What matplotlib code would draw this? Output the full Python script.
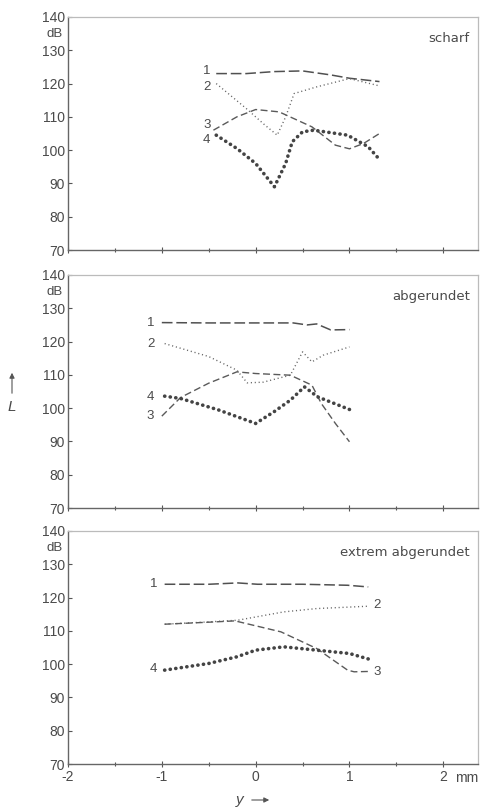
import matplotlib
matplotlib.use("Agg")
import matplotlib.pyplot as plt
import matplotlib.transforms as mtransforms

# ---- data -------------------------------------------------------------
panel_titles = ["scharf", "abgerundet", "extrem abgerundet"]

# panel 1: scharf
p1_c1_x = [-0.42, -0.1, 0.2, 0.5, 0.8, 1.0, 1.32]
p1_c1_y = [123.0, 123.0, 123.6, 123.8, 122.6, 121.6, 120.6]
p1_c2_x = [-0.42, -0.1, 0.1, 0.23, 0.32, 0.41, 0.65, 1.0, 1.32]
p1_c2_y = [120.0, 112.5, 107.5, 104.5, 110.0, 117.0, 119.0, 121.5, 119.3]
p1_c3_x = [-0.45, -0.2, 0.0, 0.25, 0.6, 0.85, 1.0, 1.15, 1.32]
p1_c3_y = [106.0, 110.0, 112.2, 111.5, 107.0, 101.5, 100.4, 102.0, 105.0]
p1_c4_x = [-0.42, -0.2, 0.0, 0.2, 0.32, 0.39, 0.5, 0.62, 0.98, 1.2, 1.32]
p1_c4_y = [104.5, 100.5, 96.0, 89.0, 96.0, 102.5, 105.5, 106.0, 104.5, 101.0, 97.2]

# panel 2: abgerundet
p2_c1_x = [-1.0, -0.5, 0.0, 0.4, 0.55, 0.65, 0.8, 1.0]
p2_c1_y = [125.7, 125.6, 125.6, 125.6, 125.0, 125.3, 123.5, 123.6]
p2_c2_x = [-0.97, -0.5, -0.2, -0.09, 0.08, 0.37, 0.5, 0.6, 0.72, 1.0]
p2_c2_y = [119.4, 115.5, 111.4, 107.6, 107.8, 109.9, 116.9, 113.9, 115.9, 118.4]
p2_c3_x = [-1.0, -0.8, -0.5, -0.2, 0.0, 0.37, 0.6, 0.7, 0.85, 1.0]
p2_c3_y = [97.6, 103.2, 107.5, 110.9, 110.4, 109.9, 106.9, 101.4, 95.4, 89.9]
p2_c4_x = [-0.97, -0.8, -0.4, 0.0, 0.2, 0.37, 0.52, 0.66, 1.0]
p2_c4_y = [103.6, 102.9, 99.5, 95.4, 99.0, 102.4, 106.4, 103.4, 99.6]

# panel 3: extrem abgerundet
p3_c1_x = [-0.97, -0.5, -0.19, 0.02, 0.5, 0.98, 1.2]
p3_c1_y = [124.0, 124.0, 124.4, 124.0, 124.0, 123.7, 123.2]
p3_c2_x = [-0.97, -0.5, -0.19, 0.3, 0.65, 1.2]
p3_c2_y = [112.0, 112.7, 113.2, 115.7, 116.7, 117.4]
p3_c3_x = [-0.97, -0.5, -0.22, 0.27, 0.65, 0.98, 1.05, 1.2]
p3_c3_y = [112.0, 112.6, 113.0, 109.7, 104.7, 98.2, 97.7, 97.8]
p3_c4_x = [-0.97, -0.5, -0.2, 0.0, 0.3, 0.65, 1.0, 1.22]
p3_c4_y = [98.2, 100.2, 102.2, 104.2, 105.2, 104.2, 103.2, 101.4]

# curve number labels: (text, x, y)
p1_labels = [("1", -0.52, 123.9), ("2", -0.52, 118.9), ("3", -0.52, 107.7), ("4", -0.52, 103.1)]
p2_labels = [("1", -1.12, 125.6), ("2", -1.12, 119.2), ("4", -1.12, 103.4), ("3", -1.12, 97.6)]
p3_labels = [("1", -1.09, 124.2), ("2", 1.29, 117.9), ("3", 1.29, 97.7), ("4", -1.09, 98.5)]

y_ticks = [70, 80, 90, 100, 110, 120, 130, 140]
x_ticks = [-2, -1, 0, 1, 2]
x_minor = [-1.5, -0.5, 0.5, 1.5]

panels = [
    (panel_titles[0], [(p1_c1_x, p1_c1_y), (p1_c2_x, p1_c2_y), (p1_c3_x, p1_c3_y), (p1_c4_x, p1_c4_y)], p1_labels),
    (panel_titles[1], [(p2_c1_x, p2_c1_y), (p2_c2_x, p2_c2_y), (p2_c3_x, p2_c3_y), (p2_c4_x, p2_c4_y)], p2_labels),
    (panel_titles[2], [(p3_c1_x, p3_c1_y), (p3_c2_x, p3_c2_y), (p3_c3_x, p3_c3_y), (p3_c4_x, p3_c4_y)], p3_labels),
]

# ---- styling ----------------------------------------------------------
W, H = 481, 809
fig = plt.figure(figsize=(W / 100, H / 100), dpi=100)
ink = "#555555"
txt = "#4a4a4a"
tickfont = "Liberation Sans"

styles = [
    dict(lw=1.1, dashes=(7, 2.5), color="#505050"),
    dict(lw=1.0, dashes=(0.8, 2.0), color="#666666"),
    dict(lw=1.0, dashes=(5, 2.5), color="#5a5a5a"),
    dict(lw=2.6, dashes=(0.05, 1.5), color="#444444", dash_capstyle="round"),
]

left_px, right_px = 68, 478
tops = [17, 275, 531]
ax_h = 233

for i, (title, curves, labels) in enumerate(panels):
    top = tops[i]
    ax = fig.add_axes([left_px / W, 1 - (top + ax_h) / H, (right_px - left_px) / W, ax_h / H])
    for (xs, ys), st in zip(curves, styles):
        ax.plot(xs, ys, solid_capstyle="round", **st)
    for t, x, y in labels:
        ax.text(x, y, t, ha="center", va="center", fontsize=9.5, color=txt, family=tickfont)
    ax.text(0.98, 133.6, title, transform=mtransforms.blended_transform_factory(ax.transAxes, ax.transData),
            ha="right", va="center", fontsize=9.5, color=txt, family="DejaVu Sans")
    ax.text(-0.012, 135, "dB", transform=mtransforms.blended_transform_factory(ax.transAxes, ax.transData),
            ha="right", va="center", fontsize=9.5, color=txt, family=tickfont)
    ax.set_xlim(-2, 2.37)
    ax.set_ylim(70, 140)
    ax.set_yticks(y_ticks)
    ax.set_xticks(x_ticks)
    ax.set_xticks(x_minor, minor=True)
    ax.tick_params(axis="both", which="both", direction="inout", length=4, width=0.8, color=ink,
                   labelsize=10, labelcolor=txt, pad=2)
    ax.tick_params(axis="y", which="major", direction="in", length=3)
    ax.tick_params(axis="x", which="minor", length=3)
    for lab in ax.get_yticklabels() + ax.get_xticklabels():
        lab.set_family(tickfont)
    if i < 2:
        ax.set_xticklabels([])
    else:
        ax.set_xticklabels([str(v) for v in x_ticks])
        ax.text(2.25, -0.03, "mm", transform=mtransforms.blended_transform_factory(ax.transData, ax.transAxes),
                ha="center", va="top", fontsize=10, color=txt, family=tickfont)
    for s in ["left", "bottom"]:
        ax.spines[s].set_color("#666666")
        ax.spines[s].set_linewidth(1.0)
    for s in ["top", "right"]:
        ax.spines[s].set_color("#bbbbbb")
        ax.spines[s].set_linewidth(0.9)
    ax.set_facecolor("white")

# axis label L with upward arrow
fig.text(12 / W, 1 - 407 / H, "L", ha="center", va="center", fontsize=11, style="italic",
         color=txt, family=tickfont)
fig.add_artist(matplotlib.patches.FancyArrowPatch((12 / W, 1 - 396 / H), (12 / W, 1 - 370 / H),
               transform=fig.transFigure, arrowstyle="-|>,head_length=3,head_width=1.5",
               lw=0.8, color=ink))

# y label with rightward arrow
fig.text(240 / W, 1 - 800 / H, "y", ha="center", va="center", fontsize=11, style="italic",
         color=txt, family=tickfont)
fig.add_artist(matplotlib.patches.FancyArrowPatch((249 / W, 1 - 800 / H), (272 / W, 1 - 800 / H),
               transform=fig.transFigure, arrowstyle="-|>,head_length=3,head_width=1.5",
               lw=0.8, color=ink))

fig.savefig("out.png", dpi=100, facecolor="white")
